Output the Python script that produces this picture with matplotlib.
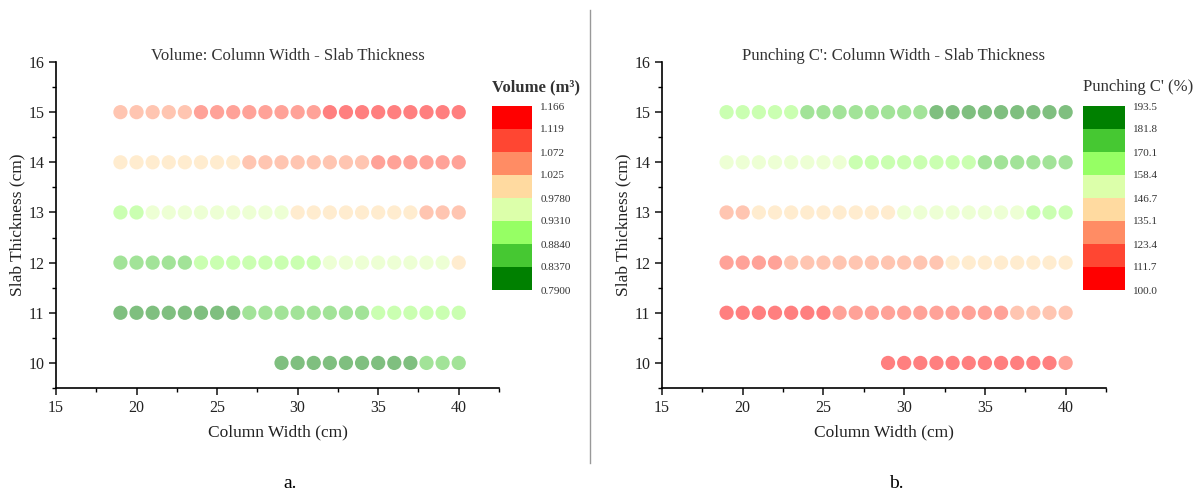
import numpy as np
import matplotlib
matplotlib.use("Agg")
import matplotlib.pyplot as plt
from matplotlib.colors import ListedColormap, BoundaryNorm
from matplotlib.ticker import MultipleLocator

plt.rcParams['font.family'] = ['Liberation Serif', 'DejaVu Serif']

# column widths (cm) for each slab thickness row
x_full = list(range(19, 41))
x_10 = list(range(29, 41))
thick = [15, 14, 13, 12, 11, 10]

# Volume (m3) per row
vol_15 = [1.03, 1.04, 1.05, 1.06, 1.07,
          1.075, 1.08, 1.09, 1.095, 1.10, 1.105, 1.11, 1.115,
          1.12, 1.125, 1.13, 1.135, 1.14, 1.145, 1.15, 1.155, 1.16]
vol_14 = [0.985, 0.99, 0.995, 1.0, 1.005, 1.01, 1.015, 1.02,
          1.03, 1.035, 1.04, 1.045, 1.05, 1.055, 1.06, 1.065,
          1.075, 1.08, 1.085, 1.09, 1.095, 1.10]
vol_13 = [0.926, 0.929,
          0.935, 0.94, 0.945, 0.95, 0.955, 0.96, 0.965, 0.97, 0.975,
          0.98, 0.985, 0.99, 0.995, 1.0, 1.005, 1.01, 1.02,
          1.03, 1.035, 1.04]
vol_12 = [0.86, 0.865, 0.87, 0.875, 0.88,
          0.887, 0.892, 0.897, 0.902, 0.907, 0.912, 0.918, 0.925,
          0.935, 0.94, 0.945, 0.95, 0.955, 0.96, 0.965, 0.972,
          0.98]
vol_11 = [0.80, 0.805, 0.81, 0.815, 0.82, 0.825, 0.83, 0.835,
          0.84, 0.845, 0.85, 0.855, 0.86, 0.865, 0.87, 0.878,
          0.888, 0.895, 0.90, 0.905, 0.91, 0.92]
vol_10 = [0.795, 0.80, 0.805, 0.81, 0.815, 0.82, 0.825, 0.83, 0.835,
          0.84, 0.845, 0.85]

# Punching C' (%) per row
pun_15 = [160, 162, 164, 166, 168,
          171, 172.5, 174, 175.5, 177, 178.5, 180, 181,
          182.5, 184, 185.5, 187, 188.5, 189.5, 190.5, 192, 193]
pun_14 = [147.5, 149, 150.5, 152, 153.5, 155, 156.5, 158,
          159, 160.5, 162, 163.5, 165, 166.5, 168, 169.5,
          171, 172.5, 174, 175.5, 177, 178.5]
pun_13 = [133, 134.5,
          135.5, 137, 138.5, 140, 141.5, 143, 144, 145, 146,
          147.5, 149, 150.5, 152, 153.5, 155, 156.5, 158,
          159, 161, 163]
pun_12 = [118, 119.5, 121, 122.5,
          124, 125, 126, 127, 128, 129, 130, 131.5, 133, 134.5,
          136, 137.5, 139, 140.5, 142, 143.5, 145, 146]
pun_11 = [104, 105, 106, 107, 108, 109.5, 111,
          112.5, 113.5, 114.5, 115.5, 116.5, 117.5, 118.5, 119.5, 120.5, 121.5, 122.5,
          124, 125.5, 127, 128.5]
pun_10 = [100.5, 101.5, 102.5, 103.5, 104.5, 105.5, 106.5, 107.5, 108.5, 109.5, 110.5,
          112.5]

vol_levels = [0.79, 0.837, 0.884, 0.931, 0.978, 1.025, 1.072, 1.119, 1.166]
vol_labels = ["0.7900", "0.8370", "0.8840", "0.9310", "0.9780", "1.025", "1.072", "1.119", "1.166"]
pun_levels = [100.0, 111.6875, 123.375, 135.0625, 146.75, 158.4375, 170.125, 181.8125, 193.5]
pun_labels = ["100.0", "111.7", "123.4", "135.1", "146.7", "158.4", "170.1", "181.8", "193.5"]

# green -> red (low -> high)
band_colors = ["#008000", "#46c832", "#96ff64", "#dcffaa", "#ffdaa0", "#ff8c64", "#ff4632", "#ff0000"]

fig = plt.figure(figsize=(12.02, 4.96), dpi=100)


def panel(ax_rect, cb_rect, rows, levels, labels, cmap, title, title_x, cb_title, cb_weight):
    ax = fig.add_axes(ax_rect)
    norm = BoundaryNorm(levels, cmap.N)
    for xs, y, vals in rows:
        ax.scatter(xs, [y] * len(xs), c=vals, cmap=cmap, norm=norm, s=105,
                   alpha=0.5, edgecolors='none')
    ax.set_xlim(15, 42.5)
    ax.set_ylim(9.5, 16)
    ax.xaxis.set_major_locator(MultipleLocator(5))
    ax.xaxis.set_minor_locator(MultipleLocator(2.5))
    ax.yaxis.set_major_locator(MultipleLocator(1))
    ax.yaxis.set_minor_locator(MultipleLocator(0.5))
    ax.spines['top'].set_visible(False)
    ax.spines['right'].set_visible(False)
    for s in ['left', 'bottom']:
        ax.spines[s].set_linewidth(1.2)
    ax.tick_params(which='major', direction='out', length=5, width=1.2, labelsize=11.5, colors='#222222')
    ax.tick_params(which='minor', direction='out', length=3, width=1.0)
    ax.set_xlabel("Column Width (cm)", fontsize=12.5, labelpad=6, color='#222222')
    ax.set_ylabel("Slab Thickness (cm)", fontsize=12.5, labelpad=2, color='#222222')
    fig.text(title_x, 1 - 56 / 496, title, ha='center', va='center', fontsize=12, color='#333333')

    cax = fig.add_axes(cb_rect)
    cb = fig.colorbar(matplotlib.cm.ScalarMappable(norm=norm, cmap=cmap), cax=cax,
                      ticks=levels)
    cb.ax.set_yticklabels(labels)
    cb.outline.set_visible(False)
    cb.ax.tick_params(length=0, labelsize=8, pad=6, colors='#333333')
    cax.text(0.0, 1.06, cb_title, transform=cax.transAxes, ha='left', va='bottom',
             fontsize=12, fontweight=cb_weight, color='#333333')
    return ax


vol_rows = [(x_full, 15, vol_15), (x_full, 14, vol_14), (x_full, 13, vol_13),
            (x_full, 12, vol_12), (x_full, 11, vol_11), (x_10, 10, vol_10)]
pun_rows = [(x_full, 15, pun_15), (x_full, 14, pun_14), (x_full, 13, pun_13),
            (x_full, 12, pun_12), (x_full, 11, pun_11), (x_10, 10, pun_10)]

panel([56 / 1202, 1 - 388 / 496, 443 / 1202, 326 / 496],
      [492 / 1202, 1 - 290 / 496, 40 / 1202, 184 / 496],
      vol_rows, vol_levels, vol_labels, ListedColormap(band_colors),
      "Volume: Column Width - Slab Thickness", 288 / 1202, "Volume (m³)", 'bold')

panel([662 / 1202, 1 - 388 / 496, 444 / 1202, 326 / 496],
      [1083 / 1202, 1 - 290 / 496, 42 / 1202, 184 / 496],
      pun_rows, pun_levels, pun_labels, ListedColormap(band_colors[::-1]),
      "Punching C': Column Width - Slab Thickness", 893 / 1202, "Punching C' (%)", 'normal')

# separator between panels
fig.add_artist(plt.Line2D([590 / 1202, 590 / 1202], [1 - 463 / 496, 1 - 10 / 496],
                          color='#999999', linewidth=1))

fig.text(290 / 1202, 1 - 484 / 496, "a.", ha='center', va='center', fontsize=14)
fig.text(896 / 1202, 1 - 484 / 496, "b.", ha='center', va='center', fontsize=14)

fig.savefig("out.png", dpi=100)
